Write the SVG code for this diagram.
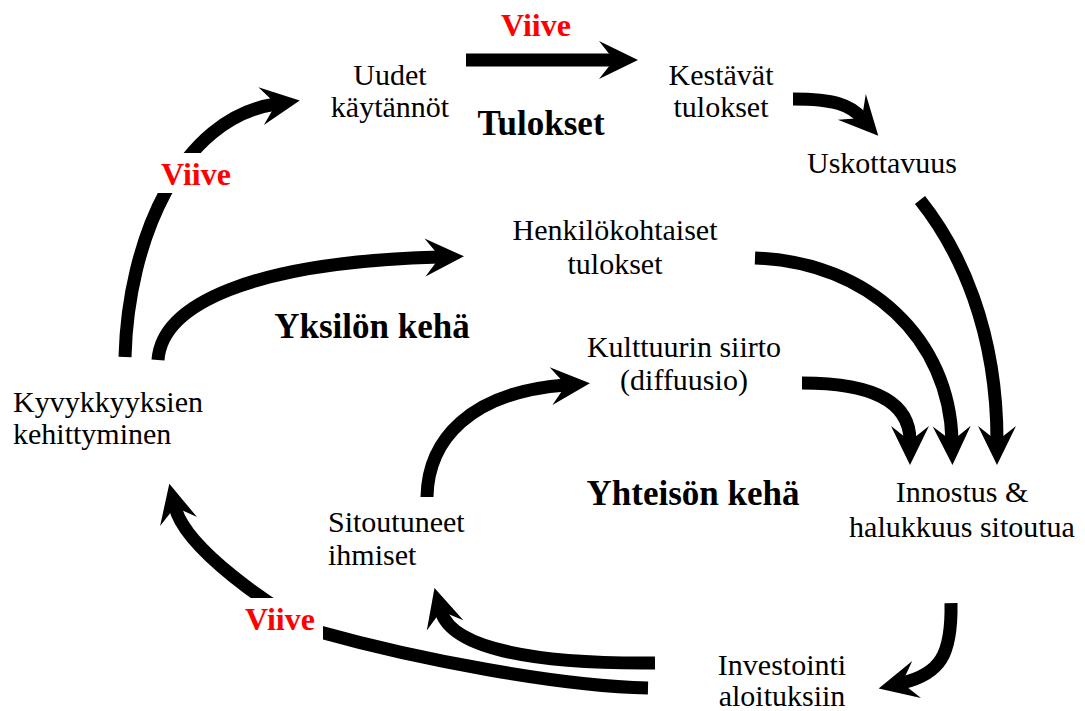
<svg xmlns="http://www.w3.org/2000/svg" width="1085" height="711" viewBox="0 0 1085 711" font-family="'Liberation Serif', Tinos, 'Times New Roman', Times, 'DejaVu Serif', 'Noto Serif', serif">
  <style>
    text { font-family: "Liberation Serif", Tinos, "Times New Roman", Times, "DejaVu Serif", "Noto Serif", serif; }
    .lbl { font-size: 30px; fill: #000; }
    .mid { text-anchor: middle; }
    .ring { font-size: 35px; font-weight: bold; fill: #000; text-anchor: middle; }
    .delay { font-size: 32px; font-weight: bold; fill: #ff0000; text-anchor: middle; }
    .flow { fill: none; stroke: #000; stroke-width: 13; stroke-linecap: butt; marker-end: url(#head); }
  </style>
  <defs>
    <marker id="head" markerUnits="userSpaceOnUse" markerWidth="60" markerHeight="60" refX="0" refY="0" orient="auto" overflow="visible">
      <path d="M24,0 L-15,-19 L0,0 L-15,19 Z" fill="#000"/>
    </marker>
  </defs>
  <rect width="1085" height="711" fill="#fff"/>

  <g id="connectors">
    <path class="flow" d="M466,60 L614,60"/>
    <path class="flow" d="M793,99 C835,99 850,105 862,118"/>
    <path class="flow" d="M920,200 C960,250 997,330 997,441"/>
    <path class="flow" d="M755,258 C870,262 950,340 952,441"/>
    <path class="flow" d="M802,383 C870,383 910,400 910,441"/>
    <path class="flow" d="M951,603 C952,655 940,674 902,683"/>
    <path class="flow" d="M655,663 C540,664 452,650 441,611"/>
    <path class="flow" d="M648,688 C560,686 420,660 320,632 C270,608 185,548 175,507"/>
    <path class="flow" d="M427,497 C428,440 470,392 566,385"/>
    <path class="flow" d="M158,360 C162,305 250,262 440,257"/>
    <path class="flow" d="M125,357 C128,240 180,118 276,104"/>
  </g>

  <g id="delay-top">
    <text class="delay" x="536" y="36">Viive</text>
  </g>
  <g id="delay-left">
    <rect x="157" y="153" width="83" height="40" fill="#fff"/>
    <text class="delay" x="196" y="185">Viive</text>
  </g>
  <g id="delay-bottom">
    <rect x="238" y="598" width="85" height="46" fill="#fff"/>
    <text class="delay" x="280" y="630">Viive</text>
  </g>

  <g id="uudet-kaytannot">
    <text class="lbl mid" x="390" y="85">Uudet</text>
    <text class="lbl mid" x="390" y="117">käytännöt</text>
  </g>
  <g id="kestavat-tulokset">
    <text class="lbl mid" x="721" y="85">Kestävät</text>
    <text class="lbl mid" x="721" y="117">tulokset</text>
  </g>
  <g id="tulokset">
    <text class="ring" x="541" y="135">Tulokset</text>
  </g>
  <g id="uskottavuus">
    <text class="lbl mid" x="882" y="173">Uskottavuus</text>
  </g>
  <g id="henkilokohtaiset-tulokset">
    <text class="lbl mid" x="615" y="240">Henkilökohtaiset</text>
    <text class="lbl mid" x="615" y="274">tulokset</text>
  </g>
  <g id="yksilon-keha">
    <text class="ring" x="372" y="338">Yksilön kehä</text>
  </g>
  <g id="kulttuurin-siirto">
    <text class="lbl mid" x="684" y="357">Kulttuurin siirto</text>
    <text class="lbl mid" x="684" y="390">(diffuusio)</text>
  </g>
  <g id="kyvykkyyksien-kehittyminen">
    <text class="lbl" x="13" y="412">Kyvykkyyksien</text>
    <text class="lbl" x="13" y="444">kehittyminen</text>
  </g>
  <g id="yhteison-keha">
    <text class="ring" x="693" y="505">Yhteisön kehä</text>
  </g>
  <g id="innostus">
    <text class="lbl mid" x="962" y="502">Innostus &amp;</text>
    <text class="lbl mid" x="962" y="537">halukkuus sitoutua</text>
  </g>
  <g id="sitoutuneet-ihmiset">
    <text class="lbl" x="328" y="532">Sitoutuneet</text>
    <text class="lbl" x="328" y="565">ihmiset</text>
  </g>
  <g id="investointi">
    <text class="lbl mid" x="782" y="675">Investointi</text>
    <text class="lbl mid" x="782" y="706">aloituksiin</text>
  </g>
</svg>
